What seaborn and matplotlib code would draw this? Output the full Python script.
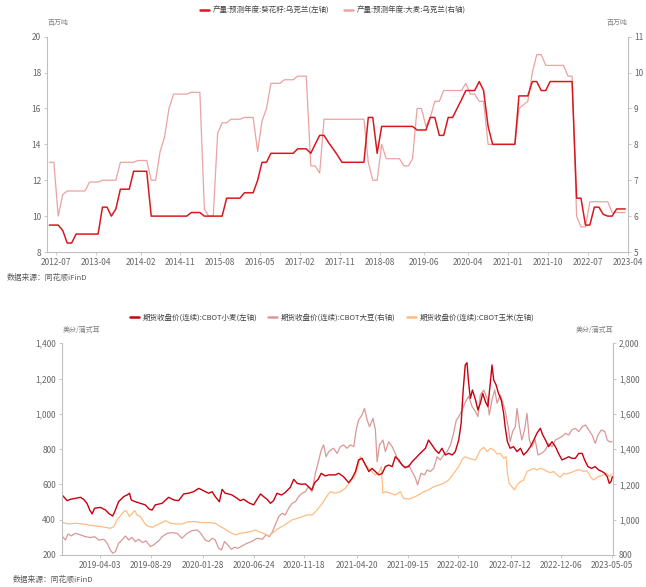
import matplotlib
matplotlib.use("Agg")
import matplotlib.pyplot as plt
import matplotlib.dates as mdates
from matplotlib.lines import Line2D
from matplotlib.ticker import FuncFormatter
import pandas as pd
import seaborn as sns

# ---------- top chart: Ukraine production forecasts, monthly 2012-05 .. 2023-03 ----------
first_month = "2012-05"
last_month = "2023-03"

sunflower = [9.5, 9.5, 9.5, 9.2, 8.5, 8.5, 9.0, 9.0, 9.0, 9.0, 9.0, 9.0,
             10.5, 10.5, 10.0, 10.4, 11.5, 11.5, 11.5, 12.5, 12.5, 12.5, 12.5,
             10.0, 10.0, 10.0, 10.0, 10.0, 10.0, 10.0, 10.0, 10.0,
             10.2, 10.2, 10.2, 10.0, 10.0, 10.0, 10.0, 10.0,
             11.0, 11.0, 11.0, 11.0, 11.3, 11.3, 11.3, 12.0, 13.0, 13.0,
             13.5, 13.5, 13.5, 13.5, 13.5, 13.5, 13.75, 13.75, 13.75, 13.5,
             14.0, 14.5, 14.5, 14.1, 13.75, 13.4,
             13.0, 13.0, 13.0, 13.0, 13.0, 13.0, 15.5, 15.5, 13.5,
             15.0, 15.0, 15.0, 15.0, 15.0, 15.0, 15.0, 15.0, 14.8, 14.8, 14.8,
             15.5, 15.5, 14.5, 14.5, 15.5, 15.5, 16.0, 16.5, 17.0, 17.0, 17.0,
             17.5, 17.0, 15.0, 14.0, 14.0, 14.0, 14.0, 14.0, 14.0,
             16.7, 16.7, 16.7, 17.5, 17.5, 17.0, 17.0,
             17.5, 17.5, 17.5, 17.5, 17.5, 17.5, 11.0, 11.0, 9.5, 9.5,
             10.5, 10.5, 10.1, 10.0, 10.0, 10.4, 10.4, 10.4]

barley = [7.5, 7.5, 6.0, 6.6, 6.7, 6.7, 6.7, 6.7, 6.7, 6.95, 6.95, 6.95,
          7.0, 7.0, 7.0, 7.0, 7.5, 7.5, 7.5, 7.5, 7.55, 7.55, 7.55, 7.0, 7.0,
          7.8, 8.2, 9.0, 9.4, 9.4, 9.4, 9.4, 9.45, 9.45, 9.45, 6.2, 6.0, 6.0,
          8.3, 8.6, 8.6, 8.7, 8.7, 8.7, 8.75, 8.75, 8.75, 7.8, 8.65, 9.0,
          9.7, 9.7, 9.7, 9.8, 9.8, 9.8, 9.9, 9.9, 9.9, 7.4, 7.4, 7.2,
          8.7, 8.7, 8.7, 8.7, 8.7, 8.7, 8.7, 8.7, 8.7, 8.7,
          7.5, 7.0, 7.0, 8.0, 7.6, 7.6, 7.6, 7.6, 7.4, 7.4, 7.6, 9.0, 9.0,
          8.5, 8.75, 9.2, 9.2, 9.5, 9.5, 9.5, 9.5, 9.5, 9.7, 9.4, 9.4, 9.2, 9.2,
          8.0, 8.0, 8.0, 8.0, 8.0, 8.0, 8.0, 9.0, 9.1, 9.2, 10.0, 10.5, 10.5,
          10.2, 10.2, 10.2, 10.2, 10.2, 9.9, 9.9, 6.0, 5.7, 5.7,
          6.4, 6.4, 6.4, 6.4, 6.4, 6.1, 6.1, 6.1, 6.1]

top_ticks = ["2012-07", "2013-04", "2014-02", "2014-11", "2015-08", "2016-05",
             "2017-02", "2017-11", "2018-08", "2019-06", "2020-04", "2021-01",
             "2021-10", "2022-07", "2023-04"]

# ---------- bottom chart: CBOT continuous futures close ----------
wheat_dates = ["2018-12-14", "2018-12-27", "2019-01-06", "2019-01-20", "2019-02-04", "2019-02-13",
               "2019-02-23", "2019-03-03", "2019-03-10", "2019-03-17", "2019-04-03", "2019-04-18",
               "2019-04-29", "2019-05-09", "2019-05-15", "2019-05-26", "2019-06-10", "2019-06-20",
               "2019-06-27", "2019-07-02", "2019-07-14", "2019-07-29", "2019-08-12", "2019-08-24",
               "2019-09-01", "2019-09-10", "2019-09-30", "2019-10-19", "2019-11-03", "2019-11-17",
               "2019-12-02", "2019-12-16", "2019-12-31", "2020-01-15", "2020-02-03", "2020-02-13",
               "2020-02-23", "2020-03-03", "2020-03-15", "2020-03-23", "2020-04-01", "2020-04-11",
               "2020-04-21", "2020-05-06", "2020-05-15", "2020-05-25", "2020-06-08", "2020-06-23",
               "2020-07-03", "2020-07-13", "2020-07-22", "2020-08-01", "2020-08-11", "2020-08-20",
               "2020-08-30", "2020-09-12", "2020-09-23", "2020-10-08", "2020-10-18", "2020-10-28",
               "2020-11-09", "2020-11-21", "2020-11-30", "2020-12-10", "2020-12-18", "2020-12-28",
               "2021-01-06", "2021-01-18", "2021-01-28", "2021-02-16", "2021-02-26", "2021-03-12",
               "2021-03-27", "2021-04-06", "2021-04-16", "2021-04-25", "2021-05-05", "2021-05-15",
               "2021-05-25", "2021-06-03", "2021-06-13", "2021-06-23", "2021-07-03", "2021-07-12",
               "2021-07-22", "2021-08-01", "2021-08-10", "2021-08-20", "2021-08-30", "2021-09-08",
               "2021-09-18", "2021-09-28", "2021-10-08", "2021-10-17", "2021-10-27", "2021-11-06",
               "2021-11-15", "2021-11-25", "2021-12-05", "2021-12-15", "2021-12-24", "2022-01-03",
               "2022-01-13", "2022-01-23", "2022-02-01", "2022-02-11", "2022-02-18", "2022-02-24",
               "2022-03-02", "2022-03-07", "2022-03-12", "2022-03-17", "2022-03-23", "2022-04-01",
               "2022-04-08", "2022-04-15", "2022-04-22", "2022-04-30", "2022-05-07", "2022-05-14",
               "2022-05-19", "2022-05-24", "2022-05-31", "2022-06-07", "2022-06-15", "2022-06-22",
               "2022-06-27", "2022-07-03", "2022-07-11", "2022-07-21", "2022-07-31", "2022-08-10",
               "2022-08-19", "2022-08-29", "2022-09-08", "2022-09-18", "2022-09-27", "2022-10-07",
               "2022-10-14", "2022-10-22", "2022-10-31", "2022-11-10", "2022-11-20", "2022-11-29",
               "2022-12-09", "2022-12-19", "2022-12-29", "2023-01-07", "2023-01-17", "2023-01-27",
               "2023-02-06", "2023-02-13", "2023-02-23", "2023-03-05", "2023-03-16", "2023-03-26",
               "2023-04-05", "2023-04-13", "2023-04-20", "2023-04-26", "2023-05-01", "2023-05-05"]
wheat = [537, 508, 516, 521, 527, 516, 493, 455, 433, 465, 470, 455,
         433, 421, 446, 502, 531, 540, 550, 512, 502, 493, 484, 459,
         455, 484, 493, 527, 512, 508, 546, 550, 559, 578, 559, 550,
         559, 531, 502, 572, 550, 546, 540, 521, 508, 516, 497, 484,
         516, 546, 531, 516, 493, 508, 550, 540, 554, 584, 629, 606,
         601, 603, 587, 569, 610, 629, 663, 648, 654, 654, 663, 644,
         610, 635, 673, 739, 748, 710, 673, 691, 673, 654, 663, 701,
         710, 701, 757, 739, 710, 697, 701, 729, 748, 767, 786, 805,
         852, 824, 795, 776, 805, 767, 776, 767, 786, 852, 946, 1135,
         1277, 1290, 1173, 1088, 1135, 1079, 1022, 1060, 1116, 1069, 1041, 1173,
         1277, 1192, 1164, 1116, 1079, 1003, 918, 842, 805, 814, 786, 805,
         767, 786, 814, 852, 890, 918, 880, 852, 814, 842, 814, 776,
         739, 748, 757, 748, 748, 776, 776, 739, 701, 691, 701, 682,
         673, 663, 644, 606, 616, 644]

corn_dates = ["2018-12-14", "2019-01-01", "2019-01-20", "2019-02-09", "2019-02-28", "2019-03-19",
              "2019-04-03", "2019-04-18", "2019-05-02", "2019-05-12", "2019-05-22", "2019-05-31",
              "2019-06-10", "2019-06-17", "2019-06-27", "2019-07-04", "2019-07-12", "2019-07-19",
              "2019-07-29", "2019-08-07", "2019-08-17", "2019-09-01", "2019-09-15", "2019-09-30",
              "2019-10-10", "2019-10-24", "2019-11-08", "2019-11-27", "2019-12-16", "2020-01-05",
              "2020-01-20", "2020-02-13", "2020-03-03", "2020-03-18", "2020-04-01", "2020-04-16",
              "2020-05-01", "2020-05-15", "2020-05-30", "2020-06-13", "2020-06-28", "2020-07-08",
              "2020-07-22", "2020-08-06", "2020-08-16", "2020-08-30", "2020-09-14", "2020-09-29",
              "2020-10-13", "2020-10-28", "2020-11-12", "2020-11-26", "2020-12-11", "2020-12-25",
              "2021-01-09", "2021-01-23", "2021-02-02", "2021-02-16", "2021-03-03", "2021-03-17",
              "2021-04-01", "2021-04-13", "2021-04-22", "2021-04-30", "2021-05-07", "2021-05-15",
              "2021-05-25", "2021-06-03", "2021-06-13", "2021-06-23", "2021-06-30", "2021-07-05",
              "2021-07-12", "2021-07-27", "2021-08-10", "2021-08-25", "2021-09-03", "2021-09-18",
              "2021-10-03", "2021-10-17", "2021-11-01", "2021-11-15", "2021-11-30", "2021-12-15",
              "2021-12-29", "2022-01-13", "2022-01-27", "2022-02-11", "2022-02-21", "2022-03-02",
              "2022-03-12", "2022-04-01", "2022-04-15", "2022-04-25", "2022-05-05", "2022-05-14",
              "2022-05-24", "2022-06-03", "2022-06-12", "2022-06-22", "2022-06-29", "2022-07-03",
              "2022-07-08", "2022-07-16", "2022-07-24", "2022-07-31", "2022-08-10", "2022-08-19",
              "2022-08-29", "2022-09-08", "2022-09-18", "2022-09-27", "2022-10-07", "2022-10-17",
              "2022-10-27", "2022-11-05", "2022-11-15", "2022-11-25", "2022-12-04", "2022-12-14",
              "2022-12-24", "2023-01-03", "2023-01-12", "2023-01-22", "2023-02-01", "2023-02-10",
              "2023-02-20", "2023-03-02", "2023-03-11", "2023-03-21", "2023-03-31", "2023-04-09",
              "2023-04-19", "2023-04-26", "2023-05-04"]
corn = [384, 376, 380, 376, 370, 365, 361, 357, 351, 361, 399, 421,
        446, 452, 418, 433, 452, 427, 418, 389, 365, 357, 370, 384,
        395, 380, 376, 376, 389, 389, 384, 384, 380, 361, 346, 327,
        314, 323, 327, 332, 342, 332, 323, 308, 323, 346, 361, 380,
        399, 408, 418, 427, 427, 455, 493, 535, 559, 550, 559, 578,
        616, 644, 691, 757, 739, 710, 691, 673, 654, 667, 701, 550,
        559, 550, 540, 559, 521, 516, 527, 540, 559, 569, 587, 597,
        606, 625, 663, 701, 742, 757, 748, 739, 795, 810, 786, 805,
        795, 773, 776, 748, 757, 663, 606, 587, 569, 597, 616, 625,
        673, 682, 691, 682, 691, 686, 673, 667, 673, 654, 640, 663,
        659, 667, 673, 682, 682, 673, 678, 644, 625, 640, 648, 654,
        663, 644, 659]

soy_dates = ["2018-12-14", "2018-12-22", "2018-12-30", "2019-01-08", "2019-01-20", "2019-02-04",
             "2019-02-18", "2019-03-05", "2019-03-17", "2019-03-29", "2019-04-13", "2019-04-23",
             "2019-05-02", "2019-05-09", "2019-05-17", "2019-05-26", "2019-06-05", "2019-06-15",
             "2019-06-25", "2019-07-04", "2019-07-14", "2019-07-24", "2019-08-04", "2019-08-14",
             "2019-08-27", "2019-09-05", "2019-09-20", "2019-09-30", "2019-10-15", "2019-10-29",
             "2019-11-13", "2019-11-27", "2019-12-12", "2019-12-26", "2020-01-10", "2020-01-20",
             "2020-02-03", "2020-02-13", "2020-02-23", "2020-03-03", "2020-03-13", "2020-03-21",
             "2020-03-30", "2020-04-09", "2020-04-19", "2020-04-29", "2020-05-08", "2020-05-20",
             "2020-06-03", "2020-06-17", "2020-07-03", "2020-07-18", "2020-07-29", "2020-08-08",
             "2020-08-17", "2020-08-25", "2020-09-04", "2020-09-14", "2020-09-23", "2020-10-03",
             "2020-10-13", "2020-10-23", "2020-11-01", "2020-11-11", "2020-11-21", "2020-11-30",
             "2020-12-10", "2020-12-20", "2020-12-30", "2021-01-06", "2021-01-13", "2021-01-20",
             "2021-01-28", "2021-02-11", "2021-02-21", "2021-03-03", "2021-03-12", "2021-03-22",
             "2021-04-01", "2021-04-11", "2021-04-18", "2021-04-25", "2021-05-05", "2021-05-12",
             "2021-05-20", "2021-05-27", "2021-06-06", "2021-06-13", "2021-06-18", "2021-06-25",
             "2021-07-05", "2021-07-12", "2021-07-22", "2021-08-01", "2021-08-10", "2021-08-20",
             "2021-08-30", "2021-09-08", "2021-09-18", "2021-09-28", "2021-10-08", "2021-10-14",
             "2021-10-24", "2021-11-03", "2021-11-11", "2021-11-20", "2021-11-30", "2021-12-10",
             "2021-12-19", "2021-12-29", "2022-01-08", "2022-01-18", "2022-01-27", "2022-02-04",
             "2022-02-11", "2022-02-21", "2022-03-02", "2022-03-12", "2022-03-22", "2022-04-01",
             "2022-04-08", "2022-04-15", "2022-04-25", "2022-05-05", "2022-05-11", "2022-05-19",
             "2022-05-27", "2022-06-03", "2022-06-12", "2022-06-19", "2022-06-27", "2022-07-05",
             "2022-07-11", "2022-07-18", "2022-07-26", "2022-07-31", "2022-08-07", "2022-08-14",
             "2022-08-22", "2022-08-29", "2022-09-05", "2022-09-13", "2022-09-22", "2022-09-30",
             "2022-10-10", "2022-10-22", "2022-10-31", "2022-11-10", "2022-11-20", "2022-11-29",
             "2022-12-09", "2022-12-19", "2022-12-29", "2023-01-07", "2023-01-17", "2023-01-27",
             "2023-02-06", "2023-02-16", "2023-02-25", "2023-03-07", "2023-03-16", "2023-03-24",
             "2023-04-03", "2023-04-13", "2023-04-20", "2023-04-26", "2023-05-04"]
soy = [904, 885, 919, 908, 923, 914, 904, 899, 904, 885, 889, 866,
       829, 810, 819, 866, 885, 908, 885, 900, 876, 889, 870, 880,
       848, 857, 880, 904, 923, 927, 923, 895, 923, 938, 942, 925,
       885, 876, 895, 885, 838, 829, 876, 857, 832, 844, 838, 851,
       866, 876, 895, 889, 914, 904, 932, 970, 1018, 1036, 1027, 1065,
       1093, 1102, 1131, 1150, 1159, 1187, 1159, 1263, 1339, 1395, 1424, 1357,
       1386, 1405, 1376, 1414, 1424, 1405, 1424, 1414, 1509, 1565, 1594, 1631,
       1565, 1527, 1575, 1509, 1329, 1424, 1452, 1386, 1442, 1414, 1376, 1329,
       1310, 1291, 1310, 1273, 1235, 1197, 1263, 1254, 1282, 1273, 1291, 1357,
       1339, 1367, 1386, 1424, 1490, 1565, 1584, 1622, 1665, 1700, 1641, 1613,
       1584, 1707, 1735, 1688, 1594, 1679, 1735, 1660, 1707, 1669, 1613, 1527,
       1442, 1499, 1527, 1631, 1527, 1452, 1509, 1603, 1452, 1414, 1452, 1367,
       1376, 1395, 1433, 1414, 1452, 1461, 1471, 1490, 1480, 1509, 1518, 1499,
       1527, 1537, 1509, 1480, 1433, 1480, 1509, 1499, 1452, 1442, 1442]

bottom_ticks = ["2019-04-03", "2019-08-29", "2020-01-28", "2020-06-24", "2020-11-18",
                "2021-04-20", "2021-09-15", "2022-02-10", "2022-07-12", "2022-12-06",
                "2023-05-05"]

top_labels = ["产量:预测年度:葵花籽:乌克兰(左轴)", "产量:预测年度:大麦:乌克兰(右轴)"]
bottom_labels = ["期货收盘价(连续):CBOT小麦(左轴)", "期货收盘价(连续):CBOT大豆(右轴)",
                 "期货收盘价(连续):CBOT玉米(左轴)"]

RED_TOP = "#D7191F"
PINK_TOP = "#EBA2A2"
RED_BOT = "#C8000F"
PINK_BOT = "#D99898"
ORANGE = "#FFBC82"
SPINE = "#BFBFBF"
TICKTXT = "#666666"

sns.set_theme(style="ticks")
plt.rcParams["font.family"] = ["Noto Sans CJK SC", "DejaVu Sans"]

W, H = 646, 587
fig = plt.figure(figsize=(W / 100, H / 100), dpi=100)
fig.patch.set_facecolor("white")


def frac_box(left, top, right, bottom):
    return [left / W, 1 - bottom / H, (right - left) / W, (bottom - top) / H]


def style_pair(ax_l, ax_r):
    for a in (ax_l, ax_r):
        a.spines["top"].set_visible(False)
        for s in a.spines.values():
            s.set_color(SPINE)
            s.set_linewidth(0.8)
        a.set_xlabel("")
        a.set_ylabel("")
    ax_l.spines["right"].set_visible(False)
    ax_r.spines["left"].set_visible(False)
    ax_r.spines["bottom"].set_visible(False)
    ax_l.tick_params(axis="both", length=2.5, width=0.6, color=SPINE,
                     labelsize=6, labelcolor=TICKTXT, pad=2)
    ax_r.tick_params(axis="y", length=2.5, width=0.6, color=SPINE,
                     labelsize=6, labelcolor=TICKTXT, pad=2)
    ax_l.set_zorder(ax_r.get_zorder() + 1)
    ax_l.patch.set_visible(False)


# ---------------- top chart ----------------
months = pd.period_range(first_month, last_month, freq="M").to_timestamp() + pd.Timedelta(days=14)

ax1 = fig.add_axes(frac_box(47.3, 36.7, 627.7, 252))
ax1r = ax1.twinx()
sns.lineplot(x=months, y=barley, ax=ax1r, color=PINK_TOP, linewidth=0.9)
sns.lineplot(x=months, y=sunflower, ax=ax1, color=RED_TOP, linewidth=1.1)
ax1.set_ylim(8, 20)
ax1.set_yticks(range(8, 21, 2))
ax1r.set_ylim(5, 11)
ax1r.set_yticks(range(5, 12))
ax1.set_xlim(pd.Timestamp("2012-05-01"), pd.Timestamp("2023-04-01"))
ax1.set_xticks(pd.to_datetime(top_ticks))
ax1.xaxis.set_major_formatter(mdates.DateFormatter("%Y-%m"))
style_pair(ax1, ax1r)

h_top = [Line2D([], [], color=RED_TOP, lw=1.8), Line2D([], [], color=PINK_TOP, lw=1.8)]
fig.legend(h_top, top_labels, loc="center", bbox_to_anchor=(333 / W, 1 - 11 / H), ncol=2,
           frameon=False, fontsize=5.4, handlelength=1.2, handletextpad=0.5,
           columnspacing=1.9, labelcolor="#404040")
fig.text(48 / W, 1 - 23 / H, "百万吨", ha="left", va="center", fontsize=5, color="#808080")
fig.text(628 / W, 1 - 23 / H, "百万吨", ha="right", va="center", fontsize=5, color="#808080")
fig.text(7 / W, 1 - 278 / H, "数据来源：同花顺iFinD", ha="left", va="center",
         fontsize=5.6, color="#595959")

# ---------------- bottom chart ----------------
ax2 = fig.add_axes(frac_box(62.3, 343.3, 612.7, 555))
ax2r = ax2.twinx()
sns.lineplot(x=pd.to_datetime(soy_dates), y=soy, ax=ax2r, color=PINK_BOT, linewidth=0.9)
sns.lineplot(x=pd.to_datetime(corn_dates), y=corn, ax=ax2, color=ORANGE, linewidth=0.9)
sns.lineplot(x=pd.to_datetime(wheat_dates), y=wheat, ax=ax2, color=RED_BOT, linewidth=1.0)
ax2.set_ylim(200, 1400)
ax2.set_yticks(range(200, 1401, 200))
ax2r.set_ylim(800, 2000)
ax2r.set_yticks(range(800, 2001, 200))
thousands = FuncFormatter(lambda v, p: f"{v:,.0f}")
ax2.yaxis.set_major_formatter(thousands)
ax2r.yaxis.set_major_formatter(thousands)
ax2.set_xlim(pd.Timestamp("2018-12-13"), pd.Timestamp("2023-05-06"))
ax2.set_xticks(pd.to_datetime(bottom_ticks))
ax2.xaxis.set_major_formatter(mdates.DateFormatter("%Y-%m-%d"))
style_pair(ax2, ax2r)

h_bot = [Line2D([], [], color=RED_BOT, lw=1.8), Line2D([], [], color=PINK_BOT, lw=1.8),
         Line2D([], [], color=ORANGE, lw=1.8)]
fig.legend(h_bot, bottom_labels, loc="center", bbox_to_anchor=(332 / W, 1 - 318 / H), ncol=3,
           frameon=False, fontsize=5.4, handlelength=1.2, handletextpad=0.5,
           columnspacing=1.5, labelcolor="#404040")
fig.text(63 / W, 1 - 330 / H, "美分/蒲式耳", ha="left", va="center", fontsize=5, color="#808080")
fig.text(613 / W, 1 - 330 / H, "美分/蒲式耳", ha="right", va="center", fontsize=5, color="#808080")
fig.text(13 / W, 1 - 580 / H, "数据来源：同花顺iFinD", ha="left", va="center",
         fontsize=5.6, color="#595959")

fig.savefig("out.png", dpi=100, facecolor="white")
